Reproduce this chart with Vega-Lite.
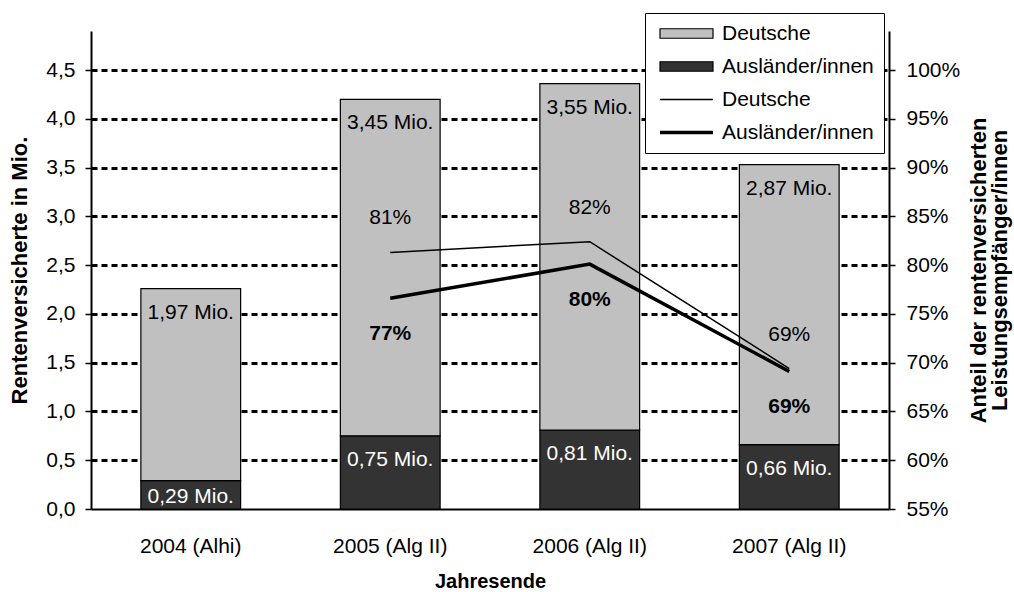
{
  "$schema": "https://vega.github.io/schema/vega-lite/v6.json",
  "width": 798,
  "height": 478,
  "autosize": {"type": "none"},
  "padding": {"left": 91, "top": 31, "right": 125, "bottom": 83},
  "background": "white",
  "config": {
    "locale": {"number": {"decimal": ",", "thousands": ".", "grouping": [3], "currency": ["", " Mio."]}},
    "font": "Liberation Sans",
    "view": {"stroke": null},
    "axis": {
      "labelFont": "Liberation Sans", "labelFontSize": 21, "labelColor": "black",
      "titleFont": "Liberation Sans", "titleFontSize": 22, "titleFontWeight": "bold", "titleColor": "black",
      "domainColor": "black", "tickColor": "black"
    }
  },
  "datasets": {
    "bars": [
      {"year": "2004 (Alhi)", "group": "A_bar", "v": 0.29},
      {"year": "2004 (Alhi)", "group": "D_bar", "v": 1.97},
      {"year": "2005 (Alg II)", "group": "A_bar", "v": 0.75},
      {"year": "2005 (Alg II)", "group": "D_bar", "v": 3.45},
      {"year": "2006 (Alg II)", "group": "A_bar", "v": 0.81},
      {"year": "2006 (Alg II)", "group": "D_bar", "v": 3.55},
      {"year": "2007 (Alg II)", "group": "A_bar", "v": 0.66},
      {"year": "2007 (Alg II)", "group": "D_bar", "v": 2.87}
    ],
    "lines": [
      {"year": "2005 (Alg II)", "series": "Deutsche", "share": 0.813},
      {"year": "2006 (Alg II)", "series": "Deutsche", "share": 0.824},
      {"year": "2007 (Alg II)", "series": "Deutsche", "share": 0.694},
      {"year": "2005 (Alg II)", "series": "Ausländer/innen", "share": 0.766},
      {"year": "2006 (Alg II)", "series": "Ausländer/innen", "share": 0.801},
      {"year": "2007 (Alg II)", "series": "Ausländer/innen", "share": 0.691}
    ]
  },
  "layer": [
    {
      "layer": [
        {
          "data": {"name": "bars"},
          "mark": {"type": "bar", "stroke": "black", "strokeWidth": 1.2},
          "encoding": {
            "x": {
              "field": "year", "type": "nominal",
              "scale": {"domain": ["2004 (Alhi)", "2005 (Alg II)", "2006 (Alg II)", "2007 (Alg II)"], "paddingInner": 0.5, "paddingOuter": 0.25},
              "title": "Jahresende",
              "axis": {"labelAngle": 0, "ticks": false, "domainWidth": 2, "labelPadding": 26, "titlePadding": 15, "titleFontSize": 20}
            },
            "y": {
              "field": "v", "type": "quantitative", "stack": "zero",
              "scale": {"domain": [0, 4.9], "nice": false},
              "title": "Rentenversicherte in Mio.",
              "axis": {
                "values": [0, 0.5, 1, 1.5, 2, 2.5, 3, 3.5, 4, 4.5],
                "format": ".1f",
                "grid": true, "gridColor": "black", "gridDash": [6, 4], "gridWidth": 3,
                "gridOpacity": {"condition": {"test": "datum.value === 0", "value": 0}, "value": 1},
                "tickSize": 6, "tickWidth": 1.5, "domainWidth": 2, "labelPadding": 10, "titlePadding": 14
              }
            },
            "color": {
              "field": "group", "type": "nominal",
              "scale": {"domain": ["D_bar", "A_bar", "D_line", "A_line"], "range": ["#c0c0c0", "#333333", "transparent", "transparent"]},
              "legend": {
                "orient": "none", "legendX": 554, "legendY": -18, "title": null,
                "fillColor": "white", "strokeColor": "black", "padding": 10,
                "labelFont": "Liberation Sans", "labelFontSize": 21, "labelColor": "black",
                "symbolSize": 100, "rowPadding": 11, "labelOffset": 46,
                "symbolType": {"expr": "(datum.value == 'D_bar' || datum.value == 'A_bar') ? 'M-1.1,-0.95H9.5V0.95H-1.1Z' : 'M-1.1,0H9.5'"},
                "symbolStrokeColor": "black",
                "symbolStrokeWidth": {"expr": "datum.value == 'A_line' ? 3.5 : (datum.value == 'D_line' ? 1.5 : 1.2)"},
                "symbolOpacity": 1,
                "labelExpr": "datum.value[0] == 'D' ? 'Deutsche' : 'Ausländer/innen'"
              }
            },
            "order": {"field": "group", "sort": "ascending"}
          }
        },
        {
          "data": {"name": "bars"},
          "transform": [{"stack": "v", "groupby": ["year"], "sort": [{"field": "group", "order": "ascending"}], "as": ["v0", "v1"]}],
          "mark": {"type": "text", "baseline": "middle", "align": "center", "fontSize": 21, "font": "Liberation Sans", "dy": {"expr": "datum.v < 0.4 ? 16 : 24"}},
          "encoding": {
            "x": {"field": "year", "type": "nominal"},
            "y": {"field": "v1", "type": "quantitative"},
            "text": {"field": "v", "type": "quantitative", "format": "$.2f"},
            "color": {"condition": {"test": "datum.group === 'A_bar'", "value": "white"}, "value": "black"}
          }
        }
      ]
    },
    {
      "layer": [
        {
          "data": {"name": "lines"},
          "mark": {"type": "line", "color": "black"},
          "encoding": {
            "x": {"field": "year", "type": "nominal"},
            "y": {
              "field": "share", "type": "quantitative",
              "scale": {"domain": [0.55, 1.04], "nice": false},
              "title": ["Anteil der rentenversicherten", "Leistungsempfänger/innen"],
              "axis": {
                "orient": "right",
                "values": [0.55, 0.6, 0.65, 0.7, 0.75, 0.8, 0.85, 0.9, 0.95, 1.0],
                "format": ".0%", "grid": false,
                "tickSize": 6, "tickWidth": 1.5, "domainWidth": 2, "labelPadding": 11,
                "titleAngle": 270, "titlePadding": 10, "titleLineHeight": 21
              }
            },
            "detail": {"field": "series", "type": "nominal"},
            "strokeWidth": {"field": "series", "type": "nominal", "scale": {"domain": ["Deutsche", "Ausländer/innen"], "range": [1.5, 3.5]}, "legend": null}
          }
        },
        {
          "data": {"name": "lines"},
          "mark": {"type": "text", "baseline": "middle", "align": "center", "fontSize": 21, "font": "Liberation Sans", "color": "black",
                   "dy": {"expr": "datum.series == 'Deutsche' ? -34 : 36"},
                   "fontWeight": {"expr": "datum.series == 'Deutsche' ? 'normal' : 'bold'"}},
          "encoding": {
            "x": {"field": "year", "type": "nominal"},
            "y": {"field": "share", "type": "quantitative"},
            "text": {"field": "share", "type": "quantitative", "format": ".0%"}
          }
        }
      ]
    }
  ],
  "resolve": {"scale": {"y": "independent"}}
}
